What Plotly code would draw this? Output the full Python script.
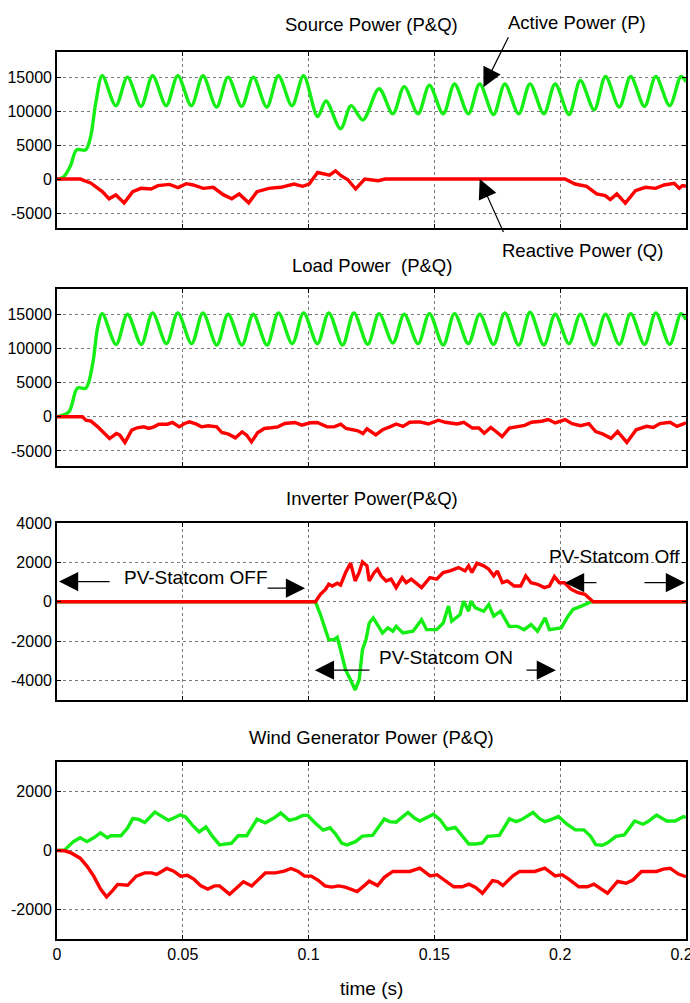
import plotly.graph_objects as go
from plotly.subplots import make_subplots

# ---------------- data ----------------
src_p_t = [0, 0.0025, 0.0053, 0.0078, 0.0114, 0.0134, 0.0154, 0.018,
           0.0234, 0.028, 0.0334, 0.038, 0.0434, 0.048, 0.0534, 0.058, 0.0634, 0.068,
           0.0734, 0.078, 0.0834, 0.088, 0.0934, 0.098, 0.1036, 0.1069, 0.1127, 0.1169,
           0.1216, 0.128, 0.1335, 0.138, 0.1435, 0.148, 0.1535, 0.158, 0.1635, 0.168,
           0.1735, 0.178, 0.1835, 0.188, 0.1935, 0.198, 0.2035, 0.208, 0.2135, 0.218,
           0.2235, 0.228, 0.2335, 0.238, 0.2435, 0.248, 0.25]
src_p_v = [0, 300, 1900, 4300, 4300, 6300, 11200, 15200,
           10800, 15000, 10700, 15200, 10800, 15200, 10800, 15200, 10600, 15000,
           10700, 15000, 10600, 15200, 10800, 15200, 9200, 11500, 7400, 10800,
           8700, 13300, 9600, 13600, 9600, 13800, 9600, 14000, 9600, 14000,
           9500, 14000, 9600, 14000, 9600, 14000, 9500, 14500, 10200, 15100,
           10600, 15100, 10700, 15100, 10800, 15100, 14300]

src_q_t = [0, 0.0093, 0.012, 0.0134, 0.018, 0.0207, 0.0234, 0.0267, 0.0301, 0.0334,
           0.0374, 0.0401, 0.0447, 0.0481, 0.0514, 0.0541, 0.0581, 0.0621, 0.0662,
           0.0695, 0.0724, 0.0762, 0.0795, 0.0842, 0.0889, 0.0942, 0.0976, 0.1002,
           0.1036, 0.1083, 0.1107, 0.1129, 0.1156, 0.1187, 0.1223, 0.1277, 0.1304,
           0.2019, 0.2059, 0.2105, 0.2145, 0.2179, 0.2199, 0.2225, 0.2259, 0.2299,
           0.2339, 0.2379, 0.2413, 0.2453, 0.2473, 0.2486, 0.25]
src_q_v = [0, 0, -390, -580, -1850, -2900, -2330, -3500, -1850, -1360,
           -1460, -970, -780, -1260, -680, -870, -1360, -1210, -2330,
           -2900, -2180, -3500, -1850, -1360, -1210, -730, -1070, -730,
           970, 580, 1210, 490, -100, -1460, 0, -240, 0,
           0, -730, -1070, -2180, -2430, -3010, -2180, -3540, -1700,
           -1210, -1360, -870, -630, -1360, -970, -1050]

load_p_t = [0, 0.0047, 0.0081, 0.0115, 0.0142, 0.0162, 0.018,
            0.0235, 0.028, 0.0335, 0.038, 0.0435, 0.048, 0.0535, 0.058, 0.0635, 0.068,
            0.0735, 0.078, 0.0835, 0.088, 0.0935, 0.098, 0.1035, 0.108, 0.1135, 0.118,
            0.1235, 0.128, 0.1335, 0.138, 0.1435, 0.148, 0.1535, 0.158, 0.1635, 0.168,
            0.1735, 0.178, 0.1835, 0.188, 0.1935, 0.198, 0.2035, 0.208, 0.2135, 0.218,
            0.2235, 0.228, 0.2335, 0.238, 0.2435, 0.248, 0.25]
load_p_v = [0, 700, 4200, 4200, 7800, 13200, 15100,
            10600, 15000, 10600, 15200, 10700, 15200, 10700, 15200, 10500, 15000,
            10500, 15000, 10500, 15200, 10700, 15200, 10700, 15200, 10500, 15200,
            10600, 15100, 10800, 15000, 10700, 15100, 10500, 15100, 10700, 15000,
            10600, 15200, 10500, 15300, 10500, 15000, 10700, 15000, 10500, 15000,
            10600, 15100, 10600, 15200, 10600, 15100, 14200]

load_q_t = [0, 0.0101, 0.0115, 0.0135, 0.0162, 0.0189, 0.0209, 0.0236, 0.025, 0.027,
            0.0297, 0.0318, 0.0345, 0.0365, 0.0385, 0.0405, 0.0439, 0.0459, 0.0486,
            0.0507, 0.0527, 0.0554, 0.0574, 0.0601, 0.0635, 0.0655, 0.0682, 0.0709,
            0.0736, 0.0754, 0.0773, 0.0797, 0.0824, 0.0851, 0.0878, 0.0905, 0.0946,
            0.0973, 0.1007, 0.1034, 0.1074, 0.1101, 0.1128, 0.1149, 0.1176, 0.1196,
            0.1216, 0.1232, 0.1267, 0.1294, 0.1328, 0.1348, 0.1375, 0.1402, 0.1442,
            0.1476, 0.1516, 0.1543, 0.159, 0.1617, 0.1651, 0.1677, 0.1698, 0.1724,
            0.1745, 0.1769, 0.1798, 0.1832, 0.1859, 0.1886, 0.1926, 0.1953, 0.198,
            0.202, 0.2047, 0.2081, 0.2114, 0.2141, 0.2168, 0.2202, 0.2228, 0.2265,
            0.2302, 0.2343, 0.237, 0.2396, 0.2437, 0.2464, 0.25]
load_q_v = [0, 0, -490, -640, -1470, -2450, -3180, -2450, -2690, -3770,
            -1960, -1610, -1470, -1710, -1470, -1080, -1080, -830, -1470,
            -980, -730, -1080, -1470, -1320, -1470, -2300, -2540, -3080,
            -2200, -2690, -3670, -2350, -1710, -1610, -1470, -980, -830,
            -1220, -880, -830, -1470, -1470, -1080, -1710, -1960, -2050,
            -2450, -1750, -2650, -1900, -1400, -1050, -1400, -800, -750,
            -1050, -500, -800, -1050, -800, -1650, -1650, -2400, -1550,
            -2150, -2900, -1650, -1400, -1250, -800, -650, -400, -900,
            -400, -1000, -1300, -1000, -2150, -2500, -3150, -2150, -3750,
            -1900, -1400, -1550, -1000, -800, -1400, -900]

inv_q_t = [0, 0.1027, 0.1047, 0.1067, 0.108, 0.1094, 0.1114, 0.1127, 0.1147, 0.1167,
           0.1185, 0.1201, 0.1214, 0.1232, 0.1241, 0.1261, 0.1274, 0.1288, 0.1308,
           0.1328, 0.1348, 0.1372, 0.1388, 0.1408, 0.1449, 0.1482, 0.1509, 0.1535,
           0.1562, 0.1596, 0.1622, 0.1636, 0.1649, 0.1669, 0.1696, 0.1716, 0.1736,
           0.175, 0.177, 0.179, 0.1817, 0.1843, 0.1863, 0.1884, 0.191, 0.1937,
           0.1957, 0.1977, 0.1997, 0.2017, 0.2044, 0.2071, 0.2098, 0.2118, 0.2131, 0.25]
inv_q_v = [0, 0, 380, 630, 890, 800, 940, 850, 1490, 1970,
           1060, 1490, 2030, 1830, 1060, 1490, 1660, 1320, 1060,
           1150, 720, 1230, 970, 1150, 720, 1230, 1150, 1490,
           1570, 1740, 1570, 1830, 1490, 1970, 1830, 1660, 1320,
           1570, 970, 1060, 800, 800, 1320, 970, 890, 720,
           800, 1280, 970, 970, 630, 460, 380, 120, 0, 0]

inv_p_t = [0, 0.1027, 0.1047, 0.1067, 0.108, 0.11, 0.1114, 0.1127, 0.1147, 0.1167,
           0.1185, 0.1201, 0.1214, 0.1228, 0.1241, 0.1257, 0.1274, 0.1294, 0.1315,
           0.1335, 0.1348, 0.1375, 0.1415, 0.1449, 0.1469, 0.1509, 0.1535, 0.1556,
           0.1569, 0.1602, 0.1616, 0.1636, 0.1645, 0.1663, 0.1696, 0.1716, 0.1736,
           0.1763, 0.1797, 0.183, 0.1857, 0.1884, 0.191, 0.194, 0.1957, 0.2004,
           0.2031, 0.2051, 0.2084, 0.2111, 0.2124, 0.25]
inv_p_v = [0, 0, -650, -1420, -1930, -1930, -1810, -2440, -3470, -3980,
           -4490, -3980, -2440, -1930, -1080, -820, -1160, -1590, -1330,
           -1500, -1250, -1590, -1500, -910, -1420, -1420, -1080, -220,
           -990, -650, 30, -480, 30, -310, -480, -140, -730,
           -480, -1250, -1250, -1420, -1160, -1500, -820, -1420, -1330,
           -730, -390, -220, -90, 0, 0]

wind_p_t = [0, 0.0031, 0.0065, 0.0092, 0.0119, 0.0146, 0.0173, 0.02, 0.0214, 0.0254,
            0.0281, 0.0301, 0.0322, 0.0349, 0.0389, 0.0416, 0.0443, 0.0464, 0.0491,
            0.0511, 0.0538, 0.0565, 0.0592, 0.0619, 0.0646, 0.0659, 0.0693, 0.072,
            0.0754, 0.0795, 0.0828, 0.0862, 0.0889, 0.0923, 0.095, 0.0977, 0.0997,
            0.1024, 0.1058, 0.1085, 0.1105, 0.1132, 0.1153, 0.1186, 0.1214, 0.1254,
            0.1301, 0.1321, 0.1348, 0.1395, 0.1422, 0.1442, 0.1476, 0.1496, 0.1523,
            0.155, 0.1583, 0.161, 0.1637, 0.1664, 0.1691, 0.1711, 0.1758, 0.1798,
            0.1825, 0.1845, 0.1892, 0.1919, 0.1939, 0.196, 0.1993, 0.2027, 0.206,
            0.2094, 0.2121, 0.2141, 0.2168, 0.2188, 0.2222, 0.2255, 0.2296, 0.2329,
            0.2349, 0.2383, 0.2423, 0.2457, 0.249, 0.25]
wind_p_v = [0, 20, 300, 430, 300, 430, 600, 430, 500, 500,
            770, 1080, 1060, 950, 1300, 1170, 1020, 1100, 1210,
            1140, 860, 630, 800, 470, 190, 210, 245, 500,
            500, 1060, 940, 1100, 1270, 1020, 1080, 1190, 1190,
            950, 690, 770, 580, 245, 190, 300, 490, 510,
            1070, 980, 960, 1290, 1090, 1000, 1150, 1230, 1040,
            720, 780, 480, 220, 220, 260, 480, 510, 1070,
            980, 1040, 1290, 1070, 980, 1040, 1150, 890, 700,
            700, 480, 200, 180, 260, 480, 530, 1000, 890,
            980, 1200, 1000, 1000, 1150, 1120]

wind_q_t = [0, 0.0031, 0.0058, 0.0092, 0.0119, 0.0146, 0.0173, 0.0197, 0.022, 0.0241,
            0.0281, 0.0315, 0.0349, 0.0376, 0.0396, 0.0436, 0.0464, 0.0491, 0.0518,
            0.0545, 0.0572, 0.0599, 0.0626, 0.0646, 0.0686, 0.0714, 0.0741, 0.0774,
            0.0801, 0.0828, 0.0869, 0.0903, 0.093, 0.0957, 0.0984, 0.1011, 0.1038,
            0.1065, 0.1092, 0.1119, 0.1146, 0.1166, 0.1193, 0.122, 0.1241, 0.1274,
            0.1301, 0.1335, 0.1402, 0.1442, 0.1483, 0.151, 0.1536, 0.1577, 0.161,
            0.1637, 0.1664, 0.1691, 0.1731, 0.1751, 0.1772, 0.1812, 0.1839, 0.1899,
            0.1939, 0.198, 0.2007, 0.2034, 0.2074, 0.2108, 0.2134, 0.2161, 0.2188,
            0.2228, 0.2262, 0.2289, 0.2323, 0.2383, 0.241, 0.2437, 0.247, 0.25]
wind_q_v = [0, -10, -90, -260, -530, -870, -1310, -1570, -1370, -1150,
            -1180, -870, -760, -760, -810, -610, -700, -870, -840,
            -980, -1200, -1310, -1200, -1200, -1480, -1260, -1060, -1200,
            -980, -760, -760, -700, -610, -700, -870, -870, -1010,
            -1200, -1240, -1200, -1240, -1310, -1390, -1200, -1040, -1190,
            -910, -710, -710, -600, -860, -820, -970, -1230, -1230,
            -1140, -1250, -1450, -1020, -1050, -1190, -860, -710, -710,
            -600, -860, -820, -970, -1230, -1230, -1140, -1280, -1450,
            -1050, -1110, -1000, -710, -710, -630, -600, -800, -890]

panel_titles = ["Source Power (P&Q)", "Load Power\u00a0 (P&Q)",
                "Inverter Power(P&Q)", "Wind Generator Power (P&Q)"]
x_ticks = [0, 0.05, 0.1, 0.15, 0.2, 0.25]
x_ticktext = ["0", "0.05", "0.1", "0.15", "0.2", "0.25"]
y_ticks_big = [-5000, 0, 5000, 10000, 15000]
y_ticktext_big = ["-5000", "0", "5000", "10000", "15000"]
y_ticks_inv = [-4000, -2000, 0, 2000, 4000]
y_ticktext_inv = ["-4000", "-2000", "0", "2000", "4000"]
y_ticks_wind = [-2000, 0, 2000]
y_ticktext_wind = ["-2000", "0", "2000"]

# ---------------- styling ----------------
GREEN = "#14ee14"
RED = "#ff0000"
FONT = "Liberation Sans, Arial, sans-serif"
LW = 3.4
H = 1003.0

fig = make_subplots(rows=4, cols=1)

def add(t, v, color, row, spline=False):
    fig.add_trace(go.Scatter(x=t, y=v, mode="lines",
                             line=dict(color=color, width=LW,
                                       shape="spline" if spline else "linear",
                                       smoothing=0.9 if spline else None),
                             showlegend=False, hoverinfo="skip"), row=row, col=1)

add(src_p_t, src_p_v, GREEN, 1, spline=True)
add(src_q_t, src_q_v, RED, 1)
add(load_p_t, load_p_v, GREEN, 2, spline=True)
add(load_q_t, load_q_v, RED, 2)
add(inv_p_t, inv_p_v, GREEN, 3)
add(inv_q_t, inv_q_v, RED, 3)
add(wind_p_t, wind_p_v, GREEN, 4)
add(wind_q_t, wind_q_v, RED, 4)

# pixel boxes (top, bottom) of each panel
boxes = [(52, 228), (289, 466), (523, 700), (762, 939)]
yranges = [[-7200, 18700], [-7200, 18700], [-5000, 4010], [-3000, 3000]]
yticks = [(y_ticks_big, y_ticktext_big), (y_ticks_big, y_ticktext_big),
          (y_ticks_inv, y_ticktext_inv), (y_ticks_wind, y_ticktext_wind)]

axis_common = dict(showline=True, linecolor="black", linewidth=1.7, mirror="ticks",
                   ticks="inside", ticklen=4, tickcolor="black", tickwidth=1.2,
                   showgrid=True, gridcolor="#7a7a7a", griddash="dot", gridwidth=1,
                   zeroline=False, automargin=False, ticklabeloverflow="allow",
                   tickfont=dict(family=FONT, size=16, color="black"))

for i, (top, bot) in enumerate(boxes):
    n = "" if i == 0 else str(i + 1)
    fig.layout["xaxis" + n].update(domain=[0, 1], range=[0, 0.25],
                                   tickvals=x_ticks, ticktext=x_ticktext,
                                   showticklabels=(i == 3), **axis_common)
    fig.layout["yaxis" + n].update(domain=[1 - bot / H, 1 - top / H],
                                   range=yranges[i], tickvals=yticks[i][0],
                                   ticktext=yticks[i][1], **axis_common)

ann = []
title_y = [25, 265, 498, 737]
title_font = dict(family=FONT, size=18.5, color="black")
for txt, py in zip(panel_titles, title_y):
    ann.append(dict(text=txt, x=0.5, y=1 - py / H, xref="paper", yref="paper",
                    xanchor="center", yanchor="middle", showarrow=False,
                    font=title_font))
ann.append(dict(text="time (s)", x=0.5, y=1 - 988 / H, xref="paper", yref="paper",
                xanchor="center", yanchor="middle", showarrow=False,
                font=dict(family=FONT, size=19, color="black")))

# text labels
lab_font = dict(family=FONT, size=18.5, color="black")
ann.append(dict(text="Active Power (P)", x=0.827, y=1 - 22 / H, xref="paper", yref="paper",
                xanchor="center", yanchor="middle", showarrow=False, font=lab_font))
ann.append(dict(text="Reactive Power (Q)", x=0.836, y=1 - 250 / H, xref="paper", yref="paper",
                xanchor="center", yanchor="middle", showarrow=False, font=lab_font))
ann.append(dict(text="PV-Statcom OFF", x=0.0552, y=1240, xref="x3", yref="y3",
                xanchor="center", showarrow=False, font=dict(family=FONT, size=19, color="black")))
ann.append(dict(text="PV-Statcom ON", x=0.1546, y=-2835, xref="x3", yref="y3",
                xanchor="center", showarrow=False, font=dict(family=FONT, size=19, color="black")))
ann.append(dict(text="PV-Statcom Off", x=0.2214, y=2300, xref="x3", yref="y3",
                xanchor="center", showarrow=False, font=dict(family=FONT, size=19, color="black")))

def arrow(xr, yr, x, y, ax, ay):
    return dict(x=x, y=y, ax=ax, ay=ay, xref=xr, yref=yr, axref=xr, ayref=yr,
                text="", showarrow=True, arrowhead=2, arrowsize=3.2,
                arrowwidth=1.2, arrowcolor="black")

ann.append(arrow("x", "y", 0.1695, 13500, 0.1797, 21100))
ann.append(arrow("x", "y", 0.168, 0, 0.1777, -8000))
ann.append(arrow("x3", "y3", 0.0008, 1030, 0.0215, 1030))
ann.append(arrow("x3", "y3", 0.0986, 690, 0.0831, 690))
ann.append(arrow("x3", "y3", 0.1025, -3480, 0.1248, -3480))
ann.append(arrow("x3", "y3", 0.1983, -3480, 0.186, -3480))
ann.append(arrow("x3", "y3", 0.2019, 970, 0.215, 970))
ann.append(arrow("x3", "y3", 0.2496, 970, 0.2329, 970))

fig.update_layout(width=690, height=1003, margin=dict(l=57, r=4, t=0, b=0),
                  paper_bgcolor="white", plot_bgcolor="white",
                  annotations=ann, showlegend=False)

fig.write_html("out.html", config={"displayModeBar": False},
               post_script="document.body.style.margin='0px';document.body.style.overflow='hidden';")
